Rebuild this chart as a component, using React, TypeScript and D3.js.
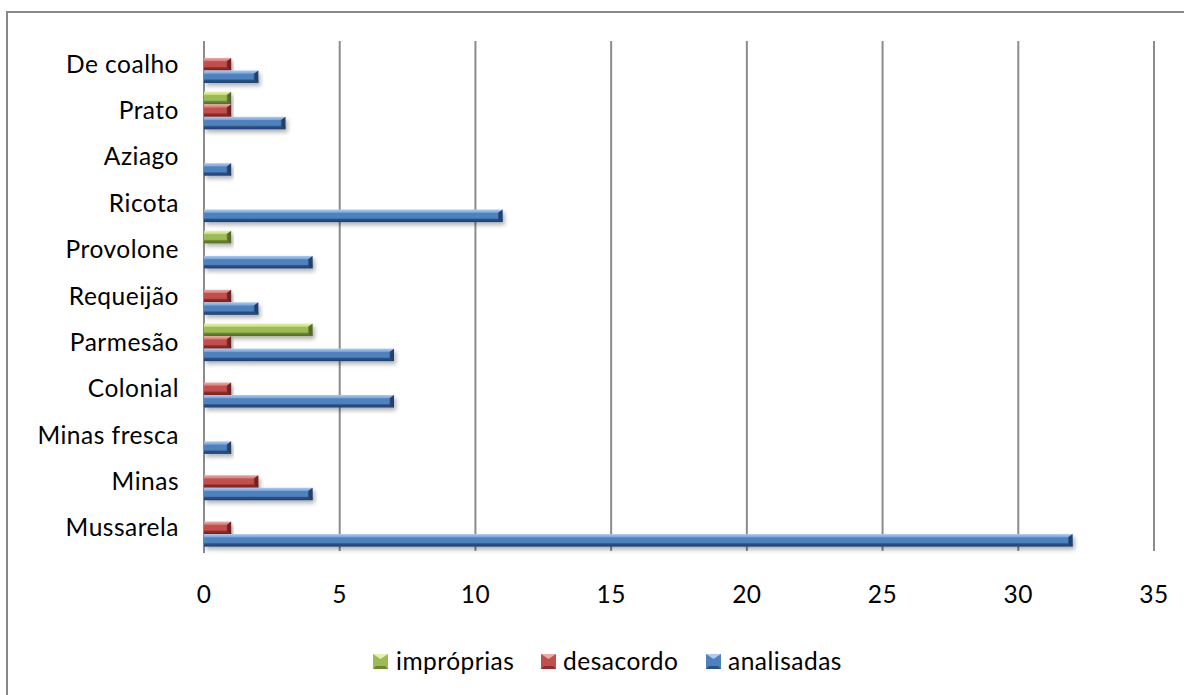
import React from "react";
import * as d3 from "d3";

// Cheese types, listed from bottom to top of the chart
const categories = [
  "Mussarela",
  "Minas",
  "Minas fresca",
  "Colonial",
  "Parmesão",
  "Requeijão",
  "Provolone",
  "Ricota",
  "Aziago",
  "Prato",
  "De coalho",
];
const analisadas = [32, 4, 1, 7, 7, 2, 4, 11, 1, 3, 2];
const desacordo = [1, 2, 0, 1, 1, 1, 0, 0, 0, 1, 1];
const improprias = [0, 0, 0, 0, 4, 0, 1, 0, 0, 1, 0];
const seriesNames = ["impróprias", "desacordo", "analisadas"];
const xTicks = [0, 5, 10, 15, 20, 25, 30, 35];

const W = 1184;
const H = 695;
const FONT = "Lato, 'Open Sans', sans-serif";
const FS = 24.5;
const LS = 0.5;

const palette: Record<string, { light: string; hi: string; base: string; dark: string; edge: string }> = {
  "impróprias": { light: "#e2f2a6", hi: "#c8e07a", base: "#9bbb59", dark: "#6b8535", edge: "#55692a" },
  desacordo: { light: "#f2aaa8", hi: "#e27b78", base: "#c0504d", dark: "#8a2f2d", edge: "#6e2422" },
  analisadas: { light: "#a9ccf4", hi: "#78a9e6", base: "#4f81bd", dark: "#2d5184", edge: "#223f68" },
};

export default function App() {
  const x = d3.scaleLinear().domain([0, 35]).range([204, 1154]);
  const y = d3
    .scaleBand<string>()
    .domain([...categories].reverse())
    .range([41, 551])
    .paddingInner(0)
    .paddingOuter(0);
  const inner = d3
    .scaleBand<string>()
    .domain(seriesNames)
    .range([0, y.bandwidth()])
    .paddingInner(0)
    .paddingOuter(0.35);

  const values: Record<string, number[]> = {
    "impróprias": improprias,
    desacordo: desacordo,
    analisadas: analisadas,
  };

  const bh = inner.bandwidth();

  const bars: React.ReactNode[] = [];
  seriesNames.forEach((s) => {
    categories.forEach((c, i) => {
      const v = values[s][i];
      if (!v) return;
      const y0 = (y(c) as number) + (inner(s) as number);
      const x0 = x(0);
      const x1 = x(v);
      const b = 3;
      const col = palette[s];
      bars.push(
        <g key={s + c} filter="url(#shadow)">
          <rect x={x0} y={y0} width={x1 - x0} height={bh} fill={`url(#grad-${s})`} />
          <polygon
            points={`${x1 - 4},${y0 + b} ${x1},${y0} ${x1},${y0 + bh} ${x1 - 4},${y0 + bh - b}`}
            fill={col.edge}
          />
          <line x1={x1 - 4} y1={y0 + b} x2={x1 - 4} y2={y0 + bh - b} stroke={col.dark} strokeWidth={0.8} />
        </g>
      );
    });
  });

  const legendItems = [
    { name: "impróprias", mx: 373, tx: 396 },
    { name: "desacordo", mx: 541, tx: 563 },
    { name: "analisadas", mx: 706, tx: 728 },
  ];

  return (
    <svg
      width={W}
      height={H}
      style={{ position: "absolute", left: 0, top: 0, background: "#fff" }}
      fontFamily={FONT}
    >
      <defs>
        {seriesNames.map((s) => {
          const c = palette[s];
          return (
            <linearGradient key={s} id={`grad-${s}`} x1="0" y1="0" x2="0" y2="1">
              <stop offset="0" stopColor={c.light} />
              <stop offset="0.22" stopColor={c.hi} />
              <stop offset="0.3" stopColor={c.base} />
              <stop offset="0.68" stopColor={c.base} />
              <stop offset="0.78" stopColor={c.dark} />
              <stop offset="1" stopColor={c.edge} />
            </linearGradient>
          );
        })}
        <filter id="shadow" x="-5%" y="-50%" width="115%" height="220%">
          <feDropShadow dx="2" dy="3" stdDeviation="2" floodColor="#000" floodOpacity="0.3" />
        </filter>
      </defs>

      <rect x={7} y={12} width={1200} height={700} fill="#fff" stroke="#898989" strokeWidth={2} />

      {/* vertical gridlines */}
      {xTicks.slice(1).map((t) => (
        <line key={t} x1={x(t)} x2={x(t)} y1={41} y2={551} stroke="#8c8c8c" strokeWidth={2} />
      ))}
      {/* category axis */}
      <line x1={x(0)} x2={x(0)} y1={41} y2={553} stroke="#8c8c8c" strokeWidth={2} />

      {bars}

      {/* category labels */}
      {categories.map((c) => (
        <text
          key={c}
          x={179}
          y={(y(c) as number) + y.bandwidth() / 2 + 8.5}
          textAnchor="end"
          fontSize={FS}
          letterSpacing={LS}
          fill="#000"
        >
          {c}
        </text>
      ))}

      {/* value axis labels */}
      {xTicks.map((t) => (
        <text key={t} x={x(t)} y={603} textAnchor="middle" fontSize={FS} letterSpacing={LS} fill="#000">
          {t}
        </text>
      ))}

      {/* legend */}
      {legendItems.map((l) => {
        const c = palette[l.name];
        const s = 15;
        const my = 654;
        return (
          <g key={l.name}>
            <rect x={l.mx} y={my} width={s} height={s} fill={c.base} />
            <polygon points={`${l.mx},${my} ${l.mx + s},${my} ${l.mx + s / 2},${my + 5}`} fill={c.light} />
            <polygon points={`${l.mx},${my + s} ${l.mx + s},${my + s} ${l.mx + s - 3},${my + s - 3} ${l.mx + 3},${my + s - 3}`} fill={c.dark} />
            <text x={l.tx} y={670} fontSize={FS} letterSpacing={LS} fill="#000">
              {l.name}
            </text>
          </g>
        );
      })}
    </svg>
  );
}
